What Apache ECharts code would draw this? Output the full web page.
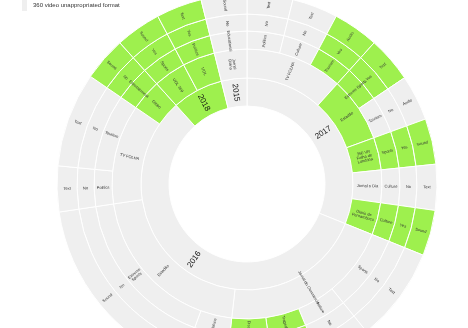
<!DOCTYPE html>
<html>
<head>
<meta charset="utf-8">
<script src="https://cdn.jsdelivr.net/npm/echarts@6/dist/echarts.min.js"></script>
<style>
html, body { margin: 0; padding: 0; background: #fff; }
#main { width: 468px; height: 328px; }
</style>
</head>
<body>
<div id="main"></div>
<script>
// one entry per outer cell, clockwise from 12 o'clock
var years = ['2017', '2017', '2017', '2017', '2017', '2017', '2017', '2017',
    '2016', '2016', '2016', '2016', '2016', '2016', '2016', '2016', '2016',
    '2018', '2018', '2015'];
var sources = ['TV FOLHA', 'TV FOLHA', 'TV FOLHA', 'Estadão', 'Estadão',
    '360 VR\nFolha de\nLondrina', 'Jornal o Dia', 'Diario de\nPernambuco',
    'Jornal do Commercio', 'Jornal do Commercio', 'Jornal do Commercio', 'Jornal do Commercio',
    'Estadão', 'Estadão', 'TV FOLHA', 'TV FOLHA', 'Globo',
    'UOL 360', 'UOL', 'Jornal\nDiário'];
var topics = ['Politics', 'Culture', 'Tourism', 'Extreme Sports', 'Tourism',
    'Sports', 'Culture', 'Culture',
    'Sports', 'Nature', 'Tragedy', 'Disaster',
    'Nature', 'Extreme\nSports', 'Politics', 'Tourism', 'Entertainment',
    'Sports', 'Politics', 'Educational'];
var answers = ['No', 'No', 'Yes', 'Yes', 'No', 'Yes', 'No', 'Yes',
    'No', 'No', 'Yes', 'Yes', 'No', 'No', 'No', 'No', 'No',
    'Yes', 'Yes', 'No'];
var formats = ['Text', 'Text', 'Audio', 'Text', 'Audio', 'Sound', 'Text', 'Sound',
    'Text', 'Text', 'Sound', 'Sound', 'Text', 'Sound', 'Text', 'Text', 'Sound',
    'Sound', 'Text', 'Sound'];
var values = [14, 14, 14, 14, 14, 14, 14, 14,
    29, 16.5, 14.5, 14.5, 13.5, 61.5, 14, 29, 13.5,
    14, 14, 14];
// 1 = 360 video appropriated format, 0 = unappropriated (per ring)
var yearOk   = [0, 0, 0, 0, 0, 0, 0, 0, 0, 0, 0, 0, 0, 0, 0, 0, 0, 1, 1, 0];
var sourceOk = [0, 0, 0, 1, 1, 1, 0, 1, 0, 0, 0, 0, 0, 0, 0, 0, 1, 1, 1, 0];
var topicOk  = [0, 0, 1, 1, 0, 1, 0, 1, 0, 0, 1, 1, 0, 0, 0, 0, 1, 1, 1, 0];
var answerOk = [0, 0, 1, 1, 0, 1, 0, 1, 0, 0, 1, 1, 0, 0, 0, 0, 1, 1, 1, 0];
var formatOk = [0, 0, 1, 1, 0, 1, 0, 1, 0, 0, 1, 1, 0, 0, 0, 0, 1, 1, 1, 0];
var legendNames = ['360 video appropriated format', '360 video unappropriated format'];

var colors = ['#efefef', '#9ef04e'];
var rings = [years, sources, topics, answers, formats];
var ringOk = [yearOk, sourceOk, topicOk, answerOk, formatOk];

// group neighbouring cells with the same name into one parent
function group(idx, depth) {
    var nodes = [];
    idx.forEach(function (i) {
        var last = nodes[nodes.length - 1];
        if (last && last.name === rings[depth][i]) {
            last.idx.push(i);
        } else {
            nodes.push({ name: rings[depth][i], idx: [i] });
        }
    });
    return nodes.map(function (n) {
        var item = {
            name: n.name,
            itemStyle: { color: colors[ringOk[depth][n.idx[0]]] }
        };
        if (depth < rings.length - 1) {
            item.children = group(n.idx, depth + 1);
        } else {
            item.value = values[n.idx[0]];
        }
        return item;
    });
}

var all = years.map(function (y, i) { return i; });
var myChart = echarts.init(document.getElementById('main'));

var option = {
    backgroundColor: '#fff',
    animation: false,
    graphic: [
        { type: 'rect', shape: { x: 22, y: -16, width: 5, height: 12 }, style: { fill: colors[1] } },
        { type: 'text', x: 33, y: -10, style: { text: legendNames[0], fontSize: 6, fill: '#333', verticalAlign: 'middle', fontFamily: 'Liberation Sans' } },
        { type: 'rect', shape: { x: 22, y: -1, width: 5, height: 12 }, style: { fill: colors[0] } },
        { type: 'text', x: 33, y: 5, style: { text: legendNames[1], fontSize: 6, fill: '#333', verticalAlign: 'middle', fontFamily: 'Liberation Sans' } }
    ],
    series: [{
        type: 'sunburst',
        center: [247, 184],
        radius: [78, 190],
        sort: null,
        startAngle: 90,
        nodeClick: false,
        emphasis: { focus: 'none' },
        data: group(all, 0),
        itemStyle: { borderColor: '#fff', borderWidth: 1 },
        label: {
            rotate: 'radial',
            fontSize: 4,
            color: '#333',
            fontFamily: 'Liberation Sans'
        },
        levels: [
            {},
            { r0: 78, r: 106, label: { fontSize: 8, color: '#111' } },
            { r0: 106, r: 135 },
            { r0: 135, r: 153 },
            { r0: 153, r: 170 },
            { r0: 170, r: 190 }
        ]
    }]
};

myChart.setOption(option);
</script>
</body>
</html>
